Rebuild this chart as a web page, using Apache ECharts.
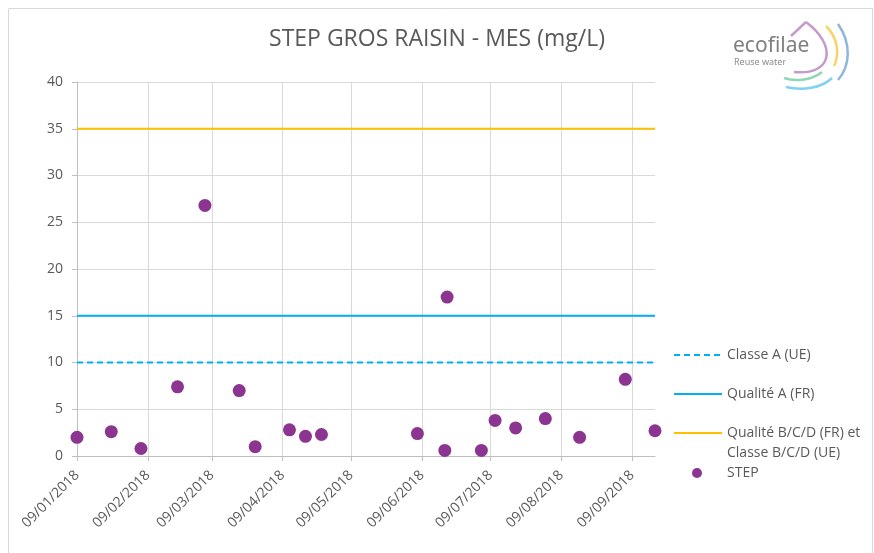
<!DOCTYPE html>
<html>
<head>
<meta charset="utf-8">
<script src="https://cdn.jsdelivr.net/npm/echarts@6/dist/echarts.min.js"></script>
<style>
html,body{margin:0;padding:0;background:#fff;}
#chart{width:874px;height:553px;}
</style>
</head>
<body>
<div id="chart"></div>
<script>
// ---- data ----
var stepDates = ['2018-01-09','2018-01-24','2018-02-06','2018-02-22','2018-03-06','2018-03-21','2018-03-28',
  '2018-04-12','2018-04-19','2018-04-26','2018-06-07','2018-06-19','2018-06-20','2018-07-05','2018-07-11',
  '2018-07-20','2018-08-02','2018-08-17','2018-09-06','2018-09-19'];
var stepValues = [2.0, 2.6, 0.8, 7.4, 26.8, 7.0, 1.0, 2.8, 2.1, 2.3, 2.4, 0.6, 17.0, 0.6, 3.8, 3.0, 4.0, 2.0, 8.2, 2.7];
var tickDates = ['2018-01-09','2018-02-09','2018-03-09','2018-04-09','2018-05-09','2018-06-09','2018-07-09','2018-08-09','2018-09-09'];
var axisStart = '2018-01-09';
var axisEnd = '2018-09-19';
var classeA_UE = 10;
var qualiteA_FR = 15;
var qualiteBCD = 35;
var seriesNames = ['Classe A (UE)', 'Qualité A (FR)', 'Qualité B/C/D (FR) et\nClasse B/C/D (UE)', 'STEP'];

function toTime(s){ var p = s.split('-'); return new Date(+p[0], +p[1]-1, +p[2]).getTime(); }
function pad(n){ return (n<10?'0':'')+n; }
function fmt(v){ var d = new Date(v); return pad(d.getDate())+'/'+pad(d.getMonth()+1)+'/'+d.getFullYear(); }

var tMin = toTime(axisStart), tMax = toTime(axisEnd);
var ticks = tickDates.map(toTime);
var stepData = stepDates.map(function(d,i){ return [toTime(d), stepValues[i]]; });
function hline(v){ return [[tMin, v],[tMax, v]]; }

var gray = '#595959';
var font = '"Open Sans", "Noto Sans", sans-serif';

var chart = echarts.init(document.getElementById('chart'), null, {renderer:'canvas'});

function legendAt(top, name, fmtFn){
  return {
    orient:'vertical', left: 673, top: top, padding: 0, itemWidth: 48, itemHeight: 12, itemGap: 0,
    data:[name], itemStyle:{opacity:0},
    formatter: fmtFn,
    textStyle:{color: gray, fontSize: 14, fontFamily: font, lineHeight: 20},
    selectedMode:false
  };
}
function arc(x1,y1,c1x,c1y,c2x,c2y,x2,y2,color){
  return {type:'bezierCurve', shape:{x1:x1,y1:y1,cpx1:c1x,cpy1:c1y,cpx2:c2x,cpy2:c2y,x2:x2,y2:y2},
    style:{fill:'none', stroke:color, lineWidth:2.5}, silent:true};
}

var option = {
  backgroundColor:'#fff',
  animation:false,
  title:{
    text:'STEP GROS RAISIN - MES (mg/L)', left: 'center', top: 23,
    textStyle:{color: gray, fontSize: 23, fontWeight:'normal', fontFamily: font}
  },
  legend:[
    legendAt(345, seriesNames[0]),
    legendAt(384, seriesNames[1]),
    legendAt(403, seriesNames[2], function(n){ return '\n' + n; }),
    {orient:'vertical', left: 692, top: 463, padding: 0, itemWidth: 10, itemHeight: 10,
     data:[{name: seriesNames[3], icon:'circle'}], selectedMode:false,
     textStyle:{color: gray, fontSize: 14, fontFamily: font, lineHeight: 20, padding:[0,0,0,20]}}
  ],
  grid:{left:77, right:219, top:82, bottom:97, containLabel:false},
  xAxis:{
    type:'value', min: tMin, max: tMax,
    axisLine:{show:true, onZero:false, lineStyle:{color:'#BFBFBF', width:1}},
    axisTick:{show:true, length:5, customValues: ticks, lineStyle:{color:'#BFBFBF'}},
    axisLabel:{customValues: ticks, rotate:45, margin:17, color: gray, fontSize:14, fontFamily: font,
      formatter: function(v){ return fmt(v); }, hideOverlap:false},
    splitLine:{show:true, lineStyle:{color:'#D9D9D9', width:1}}
  },
  yAxis:{
    type:'value', min:0, max:40, interval:5,
    axisLine:{show:true, lineStyle:{color:'#BFBFBF', width:1}},
    axisTick:{show:true, length:5, lineStyle:{color:'#BFBFBF'}},
    axisLabel:{color: gray, fontSize:14, fontFamily: font, margin:14},
    splitLine:{show:true, lineStyle:{color:'#D9D9D9', width:1}}
  },
  series:[
    {name: seriesNames[0], type:'line', data: hline(classeA_UE), symbol:'none',
     lineStyle:{color:'#00B0F0', width:2.2, type:[6,4]}, itemStyle:{color:'#00B0F0'}},
    {name: seriesNames[1], type:'line', data: hline(qualiteA_FR), symbol:'none',
     lineStyle:{color:'#00B0F0', width:2.2}, itemStyle:{color:'#00B0F0'}},
    {name: seriesNames[2], type:'line', data: hline(qualiteBCD), symbol:'none',
     lineStyle:{color:'#FFC000', width:2.2}, itemStyle:{color:'#FFC000'}},
    {name: seriesNames[3], type:'scatter', data: stepData, symbol:'circle', symbolSize:13,
     itemStyle:{color:'#8B3590', opacity:1}, z:5}
  ],
  graphic:[
    {type:'rect', shape:{x:8.5, y:8.5, width:864, height:560}, style:{fill:'none', stroke:'#D9D9D9', lineWidth:1}, silent:true, z:-1},
    {type:'text', x:733, y:36, style:{text:'ecofilae', fill:'#808080', font:'21px "Noto Sans", sans-serif'}},
    {type:'text', x:734, y:58, style:{text:'Reuse water', fill:'#8C8C8C', font:'9px "Noto Sans", sans-serif'}},
    {type:'line', shape:{x1:791, y1:36, x2:806, y2:22}, style:{stroke:'#C59BCC', lineWidth:2.5}, silent:true},
    arc(806,22, 838,46, 832,76, 794,72, '#C59BCC'),
    arc(826,26, 838,38, 840,54, 834,66, '#F7D46A'),
    arc(838,24, 852,44, 850,66, 838,80, '#8FB6DD'),
    arc(784,78, 796,82, 812,80, 822,72, '#8ED6B8'),
    arc(786,87, 802,91, 822,88, 832,78, '#7FD3F0')
  ]
};
chart.setOption(option);
</script>
</body>
</html>
